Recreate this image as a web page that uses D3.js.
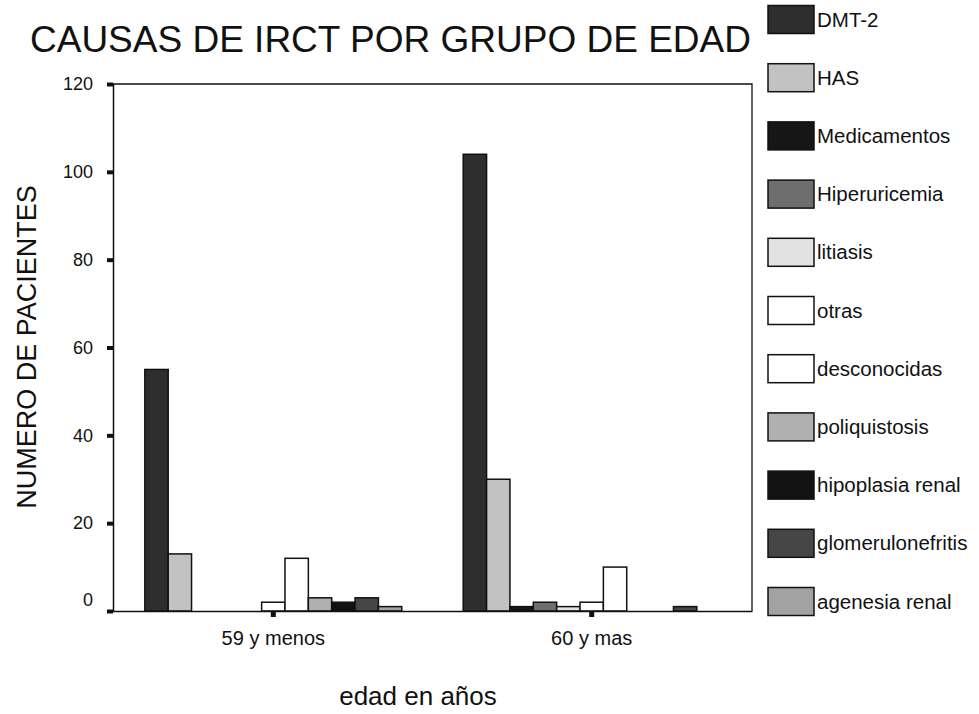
<!DOCTYPE html>
<html>
<head>
<meta charset="utf-8">
<script src="https://cdn.jsdelivr.net/npm/d3@7"></script>
<style>
  body { margin: 0; background: #fff; }
  svg text { font-family: "Liberation Sans", Arial, sans-serif; fill: #111; }
</style>
</head>
<body>
<svg id="chart" width="979" height="714"></svg>
<script>
// Data
const groups = ["59 y menos", "60 y mas"];
const causes = ["DMT-2", "HAS", "Medicamentos", "Hiperuricemia", "litiasis", "otras",
  "desconocidas", "poliquistosis", "hipoplasia renal", "glomerulonefritis", "agenesia renal"];
const values59 = [55, 13, 0, 0, 0, 2, 12, 3, 2, 3, 1];
const values60 = [104, 30, 1, 2, 1, 2, 10, 0, 0, 1, 0];
const fills = ["#2e2e2e", "#c2c2c2", "#161616", "#6e6e6e", "#e2e2e2", "#ffffff",
  "#ffffff", "#b0b0b0", "#121212", "#464646", "#a2a2a2"];
const yTicks = [0, 20, 40, 60, 80, 100, 120];

const svg = d3.select("#chart");
const margin = { top: 84, right: 227, bottom: 103, left: 113 };
const W = 979, H = 714;
const plotW = W - margin.left - margin.right;
const plotH = H - margin.top - margin.bottom;

const g = svg.append("g").attr("transform", `translate(${margin.left},${margin.top})`);

const x0 = d3.scaleBand().domain(groups).range([0, plotW]).paddingInner(0.193).paddingOuter(0.1);
const x1 = d3.scaleBand().domain(causes).range([0, x0.bandwidth()]);
const y = d3.scaleLinear().domain([0, 120]).range([plotH, 0]);

// Frame (top + right)
g.append("path")
  .attr("d", `M0,0H${plotW}V${plotH}`)
  .attr("fill", "none").attr("stroke", "#111").attr("stroke-width", 1.3);

// Bars
const rows = groups.map((grp, i) => ({ grp, vals: i === 0 ? values59 : values60 }));
g.selectAll("g.grp").data(rows).join("g")
  .attr("class", "grp")
  .attr("transform", d => `translate(${x0(d.grp)},0)`)
  .selectAll("rect")
  .data(d => d.vals.map((v, j) => ({ cause: causes[j], v, fill: fills[j] })).filter(d => d.v > 0))
  .join("rect")
  .attr("x", d => x1(d.cause))
  .attr("width", x1.bandwidth())
  .attr("y", d => y(d.v))
  .attr("height", d => plotH - y(d.v))
  .attr("fill", d => d.fill)
  .attr("stroke", "#111").attr("stroke-width", 1.5);

// Y axis
const yAxis = g.append("g")
  .call(d3.axisLeft(y).tickValues(yTicks).tickSize(6).tickPadding(14));
yAxis.select(".domain").attr("stroke", "#111").attr("stroke-width", 1.5);
yAxis.selectAll(".tick line").attr("stroke", "#111").attr("stroke-width", 4);
yAxis.selectAll(".tick text").attr("font-size", 18).attr("fill", "#222");
yAxis.selectAll(".tick").filter(d => d === 0).select("text").attr("dy", "-0.3em");

// X axis
const xAxis = g.append("g")
  .attr("transform", `translate(0,${plotH})`)
  .call(d3.axisBottom(x0).tickSize(6).tickPadding(14).tickSizeOuter(0));
xAxis.select(".domain").attr("stroke", "#111").attr("stroke-width", 1.5);
xAxis.selectAll(".tick line").attr("stroke", "#111").attr("stroke-width", 5);
xAxis.selectAll(".tick text").attr("font-size", 20).attr("fill", "#222");

// Title
svg.append("text").attr("x", 30).attr("y", 52)
  .attr("font-size", 37).attr("fill", "#222")
  .text("CAUSAS DE IRCT POR GRUPO DE EDAD");

// Axis titles
svg.append("text")
  .attr("transform", "translate(36,347) rotate(-90)")
  .attr("text-anchor", "middle").attr("font-size", 27).attr("fill", "#222")
  .text("NUMERO DE PACIENTES");

svg.append("text").attr("x", 418).attr("y", 705)
  .attr("text-anchor", "middle").attr("font-size", 26).attr("fill", "#222")
  .text("edad en años");

// Legend
const legend = svg.append("g").attr("transform", "translate(768,5.5)");
const item = legend.selectAll("g").data(causes).join("g")
  .attr("transform", (d, i) => `translate(0,${i * 58.2})`);
item.append("rect")
  .attr("width", 46).attr("height", 28)
  .attr("fill", (d, i) => fills[i])
  .attr("stroke", "#111").attr("stroke-width", 1.5);
item.append("text")
  .attr("x", 49).attr("y", 14).attr("dy", "0.35em")
  .attr("font-size", 20.5).attr("fill", "#111")
  .text(d => d);
</script>
</body>
</html>
